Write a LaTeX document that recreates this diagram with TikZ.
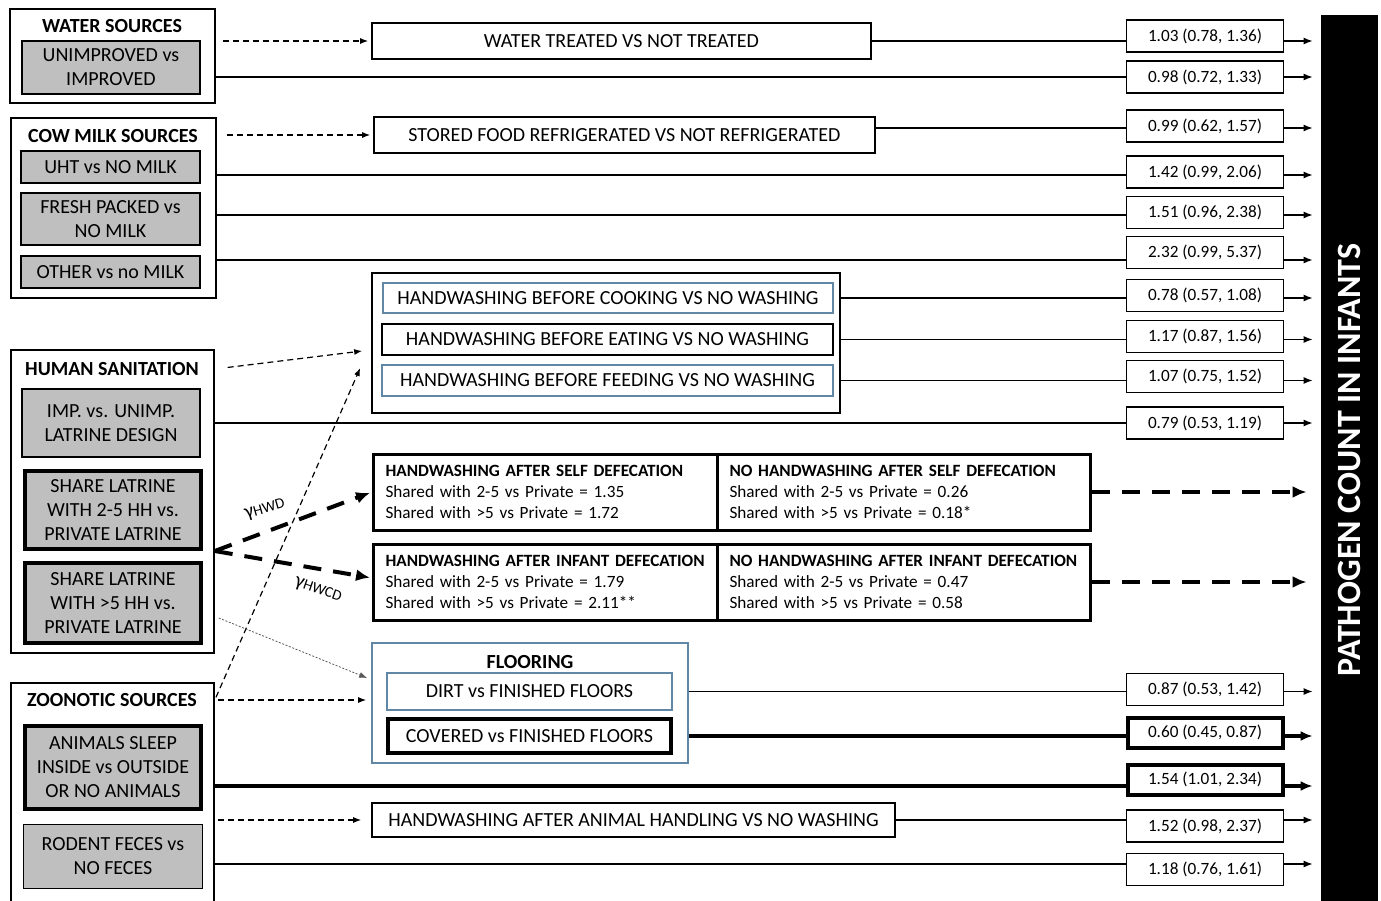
\documentclass[tikz,border=0pt]{standalone}
\usepackage{fontspec}
\setmainfont{Carlito}
\usetikzlibrary{arrows.meta,positioning,calc}

\definecolor{boxgray}{RGB}{191,191,191}
\definecolor{boxblue}{RGB}{96,135,165}

\tikzset{
  wh/.style 2 args={minimum width={#1*0.5pt}, minimum height={#2*0.5pt}, inner sep=0pt},
  groupbox/.style={draw, line width=0.8pt},
  grouptitle/.style={font=\bfseries\fontsize{10}{12}\selectfont},
  factor/.style={draw, fill=boxgray, line width=0.8pt, align=center, font=\fontsize{10}{12}\selectfont},
  keyfactor/.style={factor, line width=2pt},
  pathbox/.style={draw, line width=0.8pt, font=\fontsize{10}{12}\selectfont},
  bluebox/.style={pathbox, draw=boxblue},
  keybox/.style={pathbox, line width=2pt},
  defbox/.style={draw, line width=1.5pt, anchor=west, align=left, inner xsep=6pt,
    text width=160pt, minimum height=38pt, font=\fontsize{8.6}{10.5}\selectfont},
  valbox/.style={draw, line width=0.8pt, inner sep=0pt, font=\fontsize{8.6}{10}\selectfont,
    minimum width=78.5pt, minimum height=16pt},
  keyval/.style={valbox, line width=2pt, minimum width=77.5pt, minimum height=15pt},
  rowline/.style={line width=0.6pt, >={Latex[length=4.5pt,width=3.5pt]}},
  keyrow/.style={line width=1.8pt, >={Latex[length=6pt,width=5pt]}},
  linkarrow/.style={line width=0.6pt, dash pattern=on 3pt off 2pt, -{Latex[length=4pt,width=3pt]}},
  hintarrow/.style={line width=0.4pt, gray!70!black, dash pattern=on 1pt off 0.8pt, -{Latex[length=4pt,width=3pt]}},
  bigarrow/.style={line width=2pt, dash pattern=on 9pt off 6pt, -{Latex[length=7pt,width=6pt]}}
}

\begin{document}
\begin{tikzpicture}[x=0.5pt, y=-0.5pt]
  \useasboundingbox (0,0) rectangle (1381,900);
  \clip (0,0) rectangle (1381,900);

  % exposure groups on the left
  \node[groupbox, wh={205}{94}] (watersrc) at (112.5,56) {};
  \node[grouptitle] (watertitle) at (112,26) {WATER SOURCES};
  \node[factor, wh={178}{53}] (waterimp) at (111,67.5) {UNIMPROVED vs\\IMPROVED};

  \node[groupbox, wh={205}{180}] (milksrc) at (113.5,208) {};
  \node[grouptitle] (milktitle) at (113,136) {COW MILK SOURCES};
  \node[factor, wh={179}{32}] (uht) at (110.5,167) {UHT vs NO MILK};
  \node[factor, wh={179}{52}] (fresh) at (110.5,219) {FRESH PACKED vs\\NO MILK};
  \node[factor, wh={179}{32}] (other) at (110.5,272) {OTHER vs no MILK};

  \node[groupbox, wh={203}{303}] (humsan) at (112.5,501.5) {};
  \node[grouptitle] (humtitle) at (112,369) {HUMAN SANITATION};
  \node[factor, wh={178}{68}] (latdesign) at (111,423) {IMP. vs. UNIMP.\\LATRINE DESIGN};
  \node[keyfactor, wh={176}{78}] (share25) at (113,510) {SHARE LATRINE\\WITH 2-5 HH vs.\\PRIVATE LATRINE};
  \node[keyfactor, wh={176}{80}] (share5) at (113,603) {SHARE LATRINE\\WITH >5 HH vs.\\PRIVATE LATRINE};

  \node[groupbox, wh={203}{222}] (zoo) at (112.5,794) {};
  \node[grouptitle] (zootitle) at (112,700) {ZOONOTIC SOURCES};
  \node[keyfactor, wh={176}{83}] (animals) at (113,767) {ANIMALS SLEEP\\INSIDE vs OUTSIDE\\OR NO ANIMALS};
  \node[factor, wh={179}{64}] (rodent) at (113,856.5) {RODENT FECES vs\\NO FECES};

  % pathways in the middle
  \node[pathbox, wh={499}{36}] (treated) at (621.5,41) {WATER TREATED VS NOT TREATED};
  \node[pathbox, wh={501}{36}] (stored) at (624.5,135) {STORED FOOD REFRIGERATED VS NOT REFRIGERATED};

  \node[groupbox, wh={468}{140}] (hwgroup) at (606,343) {};
  \node[bluebox, wh={450}{30}] (cooking) at (608,298) {HANDWASHING BEFORE COOKING VS NO WASHING};
  \node[pathbox, wh={451}{31}] (eating) at (607.5,339.5) {HANDWASHING BEFORE EATING VS NO WASHING};
  \node[bluebox, wh={451}{31}] (feeding) at (607.5,380.5) {HANDWASHING BEFORE FEEDING VS NO WASHING};

  \node[defbox] (selfhw) at (372,492) {\mbox{\bfseries HANDWASHING AFTER SELF DEFECATION}\\Shared with 2-5 vs Private = 1.35\\Shared with >5 vs Private = 1.72};
  \node[defbox, text width=174.5pt] (selfno) at (716,492) {\mbox{\bfseries NO HANDWASHING AFTER SELF DEFECATION}\\Shared with 2-5 vs Private = 0.26\\Shared with >5 vs Private = 0.18*};
  \node[defbox] (infhw) at (372,582) {\mbox{\bfseries HANDWASHING AFTER INFANT DEFECATION}\\Shared with 2-5 vs Private = 1.79\\Shared with >5 vs Private = 2.11**};
  \node[defbox, text width=174.5pt] (infno) at (716,582) {\mbox{\bfseries NO HANDWASHING AFTER INFANT DEFECATION}\\Shared with 2-5 vs Private = 0.47\\Shared with >5 vs Private = 0.58};

  \node[groupbox, draw=boxblue, wh={316}{120}] (flooring) at (530,703) {};
  \node[grouptitle] (floortitle) at (530,662) {FLOORING};
  \node[bluebox, wh={285}{37}] (dirt) at (529.5,691.5) {DIRT vs FINISHED FLOORS};
  \node[keybox, wh={283}{34}] (covered) at (529.5,736) {COVERED vs FINISHED FLOORS};

  \node[pathbox, wh={523}{34}] (animalhw) at (633.5,820) {HANDWASHING AFTER ANIMAL HANDLING VS NO WASHING};

  % outcome bar
  \node[fill=black, wh={57}{890}] (bar) at (1349.5,460) {};
  \node[rotate=90, text=white, font=\bfseries\fontsize{17}{20}\selectfont] (outcome) at (1349,460) {PATHOGEN COUNT IN INFANTS};

  % estimates
  \foreach \v/\y/\s/\t in {v1/36/valbox/{1.03 (0.78, 1.36)}, v2/77/valbox/{0.98 (0.72, 1.33)},
      v3/126/valbox/{0.99 (0.62, 1.57)}, v4/172/valbox/{1.42 (0.99, 2.06)},
      v5/212.5/valbox/{1.51 (0.96, 2.38)}, v6/252.5/valbox/{2.32 (0.99, 5.37)},
      v7/295.5/valbox/{0.78 (0.57, 1.08)}, v8/336.5/valbox/{1.17 (0.87, 1.56)},
      v9/376.5/valbox/{1.07 (0.75, 1.52)}, v10/423/valbox/{0.79 (0.53, 1.19)},
      v11/689.5/valbox/{0.87 (0.53, 1.42)}, v12/732.5/keyval/{0.60 (0.45, 0.87)},
      v13/779.5/keyval/{1.54 (1.01, 2.34)}, v14/826/valbox/{1.52 (0.98, 2.37)},
      v15/869.5/valbox/{1.18 (0.76, 1.61)}} {
    \node[\s] (\v) at (1205,\y) {\t};
  }

  % row starts
  \coordinate (r1) at (treated.east);
  \coordinate (r2) at (215,77);
  \coordinate (r3) at ($(stored.east)+(0,-7)$);
  \coordinate (r4) at (216,175);
  \coordinate (r5) at (216,215);
  \coordinate (r6) at (216,260);
  \coordinate (r7) at (hwgroup.east |- cooking);
  \coordinate (r8) at (hwgroup.east |- eating);
  \coordinate (r9) at (hwgroup.east |- feeding);
  \coordinate (r10) at (humsan.east |- latdesign);
  \coordinate (r11) at (flooring.east |- dirt);
  \coordinate (r12) at (flooring.east |- covered);
  \coordinate (r13) at (214,786);
  \coordinate (r14) at (animalhw.east);
  \coordinate (r15) at (214,864);

  \foreach \r/\v/\s in {r1/v1/rowline, r2/v2/rowline, r3/v3/rowline, r4/v4/rowline,
      r5/v5/rowline, r6/v6/rowline, r7/v7/rowline, r8/v8/rowline, r9/v9/rowline,
      r10/v10/rowline, r11/v11/rowline, r12/v12/keyrow, r13/v13/keyrow,
      r14/v14/rowline, r15/v15/rowline} {
    \draw[\s] (\r) -- (\r -| \v.west);
    \draw[\s, ->, shorten >=4pt] (\r -| \v.east) -- (\r -| bar.west);
  }

  % links between groups and pathways
  \draw[linkarrow, shorten <=3.5pt, shorten >=1.5pt] (watersrc.east |- treated.west) -- (treated.west);
  \draw[linkarrow, shorten <=5pt, shorten >=1.5pt] (milksrc.east |- stored.west) -- (stored.west);
  \draw[linkarrow, shorten <=6.5pt] (humsan.east |- humtitle) -- ($(hwgroup.west)+(-9,8)$);
  \draw[linkarrow, shorten <=1.5pt] (zoo.east |- zootitle) -- ($(hwgroup.west)+(-11,25)$);
  \draw[linkarrow, shorten <=1.5pt, shorten >=2.5pt] (zoo.east |- zootitle) -- (flooring.west |- zootitle);
  \draw[linkarrow, shorten <=1.5pt, shorten >=5pt] (zoo.east |- animalhw.west) -- (animalhw.west);
  \draw[hintarrow] ($(humsan.east |- share5)+(4,15)$) -- ($(flooring.west)+(-4,-25)$);

  % effect modification by handwashing
  \draw[bigarrow, shorten >=1pt] (humsan.east |- share25.south) -- (selfhw.west);
  \draw[bigarrow, shorten >=1pt] (humsan.east |- share25.south) -- ($(infhw.west)+(0,-4)$);
  \node[rotate=16, font=\fontsize{10}{12}\selectfont] (ghwd) at (265,510) {γ{\fontsize{7.5}{8}\selectfont HWD}};
  \node[rotate=-19, font=\fontsize{10}{12}\selectfont] (ghwcd) at (318,590) {γ{\fontsize{7.5}{8}\selectfont HWCD}};
  \draw[bigarrow, shorten >=7pt] (selfno.east) -- (bar.west |- selfno.east);
  \draw[bigarrow, shorten >=7pt] (infno.east) -- (bar.west |- infno.east);
\end{tikzpicture}
\end{document}
